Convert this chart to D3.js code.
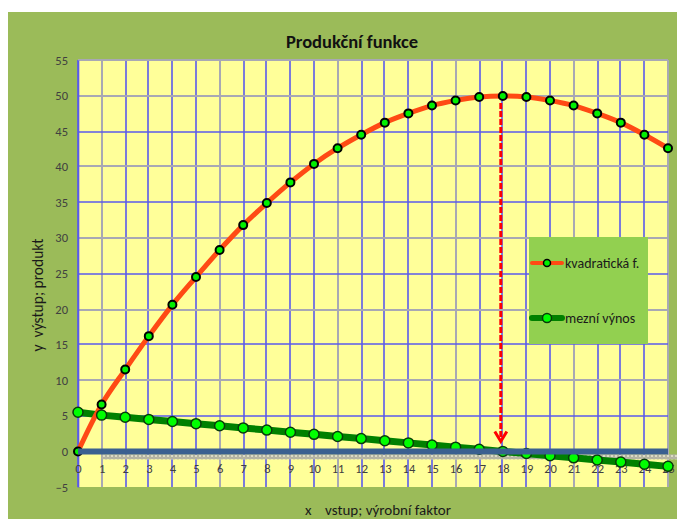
<!DOCTYPE html>
<html>
<head>
<meta charset="utf-8">
<script src="https://cdn.jsdelivr.net/npm/d3@7"></script>
<style>
  html, body { margin: 0; padding: 0; background: #ffffff; }
  svg text { font-family: Carlito, Lato, "Liberation Sans", sans-serif; }
</style>
</head>
<body>
<div id="chart"></div>
<script>
// Input factor x (0..25)
const inputs = [0, 1, 2, 3, 4, 5, 6, 7, 8, 9, 10, 11, 12, 13, 14, 15, 16, 17, 18, 19, 20, 21, 22, 23, 24, 25];
// Total product (quadratic production function)
const quadValues = [0, 6.6, 11.5, 16.2, 20.6, 24.5, 28.3, 31.8, 34.9, 37.8, 40.4, 42.6, 44.5, 46.2, 47.5, 48.6,
                    49.3, 49.8, 49.95, 49.8, 49.3, 48.6, 47.5, 46.2, 44.5, 42.6];
// Marginal product
const marginalValues = [5.5, 5.1, 4.8, 4.5, 4.2, 3.9, 3.6, 3.3, 3.0, 2.7, 2.4, 2.1, 1.8, 1.5, 1.2, 0.9,
                        0.6, 0.3, 0.0, -0.3, -0.6, -0.9, -1.2, -1.5, -1.8, -2.1];
const yTicks = [-5, 0, 5, 10, 15, 20, 25, 30, 35, 40, 45, 50, 55];
const seriesNames = ["kvadratická f.", "mezní výnos"];
const titleText = "Produkční funkce";
const xTitle = "x    vstup; výrobní faktor";
const yTitle = "y  výstup; produkt";

const W = 677, H = 519;
const plot = { left: 78, right: 668, top: 60, bottom: 487 };

const svg = d3.select("#chart").append("svg")
  .attr("width", W).attr("height", H)
  .style("display", "block");

// chart area background
svg.append("rect").attr("x", 8).attr("y", 12).attr("width", W - 8).attr("height", H - 12)
  .attr("fill", "#9bbb59");

const x = d3.scaleLinear().domain([0, 25]).range([plot.left, plot.right]);
const y = d3.scaleLinear().domain([-5, 55]).range([plot.bottom, plot.top]);
const even = v => Math.round(v / 2) * 2;

// plot area
svg.append("rect")
  .attr("x", plot.left).attr("y", plot.top)
  .attr("width", plot.right - plot.left).attr("height", plot.bottom - plot.top)
  .attr("fill", "#ffff99");

// gridlines: blue minor lines, grey heavier lines
const greyX = [1, 6, 11, 16, 21, 25];
const greyY = [10, 20, 30, 40, 50, 55];
const grid = svg.append("g").attr("class", "grid");
inputs.forEach(v => {
  const g = greyX.includes(v);
  const px = even(x(v));
  grid.append("line")
    .attr("x1", px).attr("x2", px).attr("y1", plot.top).attr("y2", plot.bottom)
    .attr("stroke", g ? "#a8a8b4" : "#5a5aec")
    .attr("stroke-width", g ? 2 : 1.6);
});
yTicks.filter(v => v > -5).forEach(v => {
  const g = greyY.includes(v);
  const py = even(y(v));
  grid.append("line")
    .attr("x1", plot.left).attr("x2", plot.right).attr("y1", py).attr("y2", py)
    .attr("stroke", g ? "#a8a8b4" : "#5a5aec")
    .attr("stroke-width", g ? 2 : 1.6);
});

// y axis
const yAxis = svg.append("g")
  .attr("transform", `translate(${plot.left},0)`)
  .call(d3.axisLeft(y).tickValues(yTicks).tickSize(0).tickPadding(10));
yAxis.select(".domain").attr("stroke", "#5a5aec").attr("stroke-width", 1.6);
yAxis.selectAll(".tick line").remove();
yAxis.selectAll("text").attr("font-size", 12.5).attr("fill", "#404040");

// hatched band under the zero line
const defs = svg.append("defs");
const pat = defs.append("pattern").attr("id", "hatch")
  .attr("patternUnits", "userSpaceOnUse").attr("width", 4).attr("height", 4);
pat.append("rect").attr("width", 4).attr("height", 4).attr("fill", "#dcdcc4");
pat.append("circle").attr("cx", 2).attr("cy", 2).attr("r", 1.3)
  .attr("fill", "none").attr("stroke", "#8a8a80").attr("stroke-width", 0.8);
svg.append("rect")
  .attr("x", x(1)).attr("y", y(0) + 3).attr("width", W - x(1)).attr("height", 5)
  .attr("fill", "url(#hatch)");

// x axis tick labels (axis crosses at y = 0)
const xAxis = svg.append("g")
  .attr("transform", `translate(0,${y(0)})`)
  .call(d3.axisBottom(x).tickValues(inputs).tickFormat(d3.format("d")).tickSize(0).tickPadding(13));
xAxis.select(".domain").remove();
xAxis.selectAll(".tick line").remove();
xAxis.selectAll("text").attr("font-size", 12.5).attr("fill", "#404040");

const quadData = inputs.map((v, i) => [v, quadValues[i]]);
const margData = inputs.map((v, i) => [v, marginalValues[i]]);

const line = d3.line().x(d => x(d[0])).y(d => y(d[1])).curve(d3.curveCatmullRom.alpha(0.5));
const straight = d3.line().x(d => x(d[0])).y(d => y(d[1]));

// marginal product line
svg.append("path").datum(margData).attr("d", straight)
  .attr("fill", "none").attr("stroke", "#008000").attr("stroke-width", 7)
  .attr("stroke-linecap", "round");

// production function curve
svg.append("path").datum(quadData).attr("d", line)
  .attr("fill", "none").attr("stroke", "#ff4a14").attr("stroke-width", 5)
  .attr("stroke-linecap", "round");

// markers
svg.append("g").selectAll("circle").data(margData).join("circle")
  .attr("cx", d => x(d[0])).attr("cy", d => y(d[1])).attr("r", 5)
  .attr("fill", "#00ff00").attr("stroke", "#0a3a0a").attr("stroke-width", 1.5);
svg.append("g").selectAll("circle").data(quadData).join("circle")
  .attr("cx", d => x(d[0])).attr("cy", d => y(d[1])).attr("r", 4)
  .attr("fill", "#00f000").attr("stroke", "#000000").attr("stroke-width", 2);

// thick zero line
svg.append("line")
  .attr("x1", x(0)).attr("x2", x(25)).attr("y1", y(0)).attr("y2", y(0))
  .attr("stroke", "#3a6090").attr("stroke-width", 6);

// dashed arrow from the maximum down to the axis
const iMax = d3.maxIndex(quadValues);
const ax = x(inputs[iMax]) - 2;
const aTop = y(quadValues[iMax]) + 7;
const aTip = y(0) - 10;
svg.append("line")
  .attr("x1", ax).attr("x2", ax).attr("y1", aTop).attr("y2", aTip - 2)
  .attr("stroke", "#ff0000").attr("stroke-width", 3).attr("stroke-dasharray", "6,2");
svg.append("path")
  .attr("d", `M${ax - 6},${aTip - 10} L${ax},${aTip} L${ax + 6},${aTip - 10}`)
  .attr("fill", "none").attr("stroke", "#ff0000").attr("stroke-width", 3);

// legend
const lg = svg.append("g");
lg.append("rect").attr("x", 529).attr("y", 237).attr("width", 119).attr("height", 107)
  .attr("fill", "#92d050");
const legendItems = [
  { name: seriesNames[0], y: 263, stroke: "#ff4a14", sw: 4, fill: "#00f000", ms: "#000000", r: 3.5 },
  { name: seriesNames[1], y: 318, stroke: "#008000", sw: 6, fill: "#00ff00", ms: "#0a3a0a", r: 4.5 }
];
legendItems.forEach(it => {
  lg.append("line").attr("x1", 532).attr("x2", 562).attr("y1", it.y).attr("y2", it.y)
    .attr("stroke", it.stroke).attr("stroke-width", it.sw).attr("stroke-linecap", "round");
  lg.append("circle").attr("cx", 547).attr("cy", it.y).attr("r", it.r)
    .attr("fill", it.fill).attr("stroke", it.ms).attr("stroke-width", 1.5);
  lg.append("text").attr("x", 565).attr("y", it.y + 5).attr("font-size", 14)
    .attr("fill", "#1a1a1a").text(it.name);
});

// titles
svg.append("text").attr("x", 352).attr("y", 48).attr("text-anchor", "middle")
  .attr("font-size", 18.5).attr("font-weight", "bold").attr("fill", "#111").text(titleText);
svg.append("text").attr("x", 378).attr("y", 515).attr("text-anchor", "middle")
  .attr("font-size", 15).attr("fill", "#1a1a1a").style("white-space", "pre").text(xTitle);
svg.append("text").attr("transform", "translate(43,295) rotate(-90)").attr("text-anchor", "middle")
  .attr("font-size", 15.5).attr("fill", "#1a1a1a").style("white-space", "pre").text(yTitle);
</script>
</body>
</html>
